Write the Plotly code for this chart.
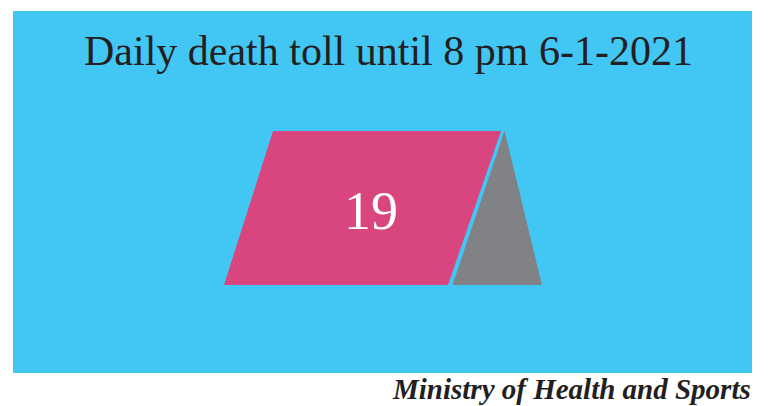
import plotly.graph_objects as go

# ---- data ----
title_text = ["Daily death toll until 8 pm 6-1-2021"]
death_toll = [19]
source_text = ["Ministry of Health and Sports"]

# ---- style / geometry ----
W, H = 769, 406
BLUE = "#42C6F4"
PINK = "#D9457E"
GREY = "#808285"
DARK = "#231F20"

panel = dict(x0=13, x1=752, y0=11, y1=373)
pink_poly = dict(x=[273, 501, 448, 224, 273], y=[131, 131, 285, 285, 131])
grey_poly = dict(x=[504.5, 542, 452.5, 504.5], y=[131, 285, 285, 131])

fig = go.Figure()

fig.add_trace(go.Scatter(x=pink_poly["x"], y=pink_poly["y"], mode="lines",
                         fill="toself", fillcolor=PINK, line=dict(width=0),
                         hoverinfo="skip", showlegend=False))
fig.add_trace(go.Scatter(x=grey_poly["x"], y=grey_poly["y"], mode="lines",
                         fill="toself", fillcolor=GREY, line=dict(width=0),
                         hoverinfo="skip", showlegend=False))

fig.add_shape(type="rect", xref="x", yref="y", layer="below",
              line=dict(width=0), fillcolor=BLUE, **panel)

fig.add_annotation(x=388, y=51, xref="x", yref="y", text=title_text[0],
                   showarrow=False, xanchor="center", yanchor="middle",
                   font=dict(family="Liberation Serif", size=42, color=DARK))
fig.add_annotation(x=371, y=211, xref="x", yref="y", text=str(death_toll[0]),
                   showarrow=False, xanchor="center", yanchor="middle",
                   font=dict(family="Liberation Serif", size=54, color="white"))
fig.add_annotation(x=752, y=406, xref="x", yref="y",
                   text="<b><i>" + source_text[0] + "</i></b>",
                   showarrow=False, xanchor="right", yanchor="bottom",
                   borderpad=0,
                   font=dict(family="Liberation Serif", size=29, color=DARK))

fig.update_layout(width=W, height=H, margin=dict(l=0, r=0, t=0, b=0),
                  paper_bgcolor="white", plot_bgcolor="white",
                  xaxis=dict(range=[0, W], visible=False, fixedrange=True),
                  yaxis=dict(range=[H, 0], visible=False, fixedrange=True),
                  showlegend=False)

fig.write_html("out.html")
